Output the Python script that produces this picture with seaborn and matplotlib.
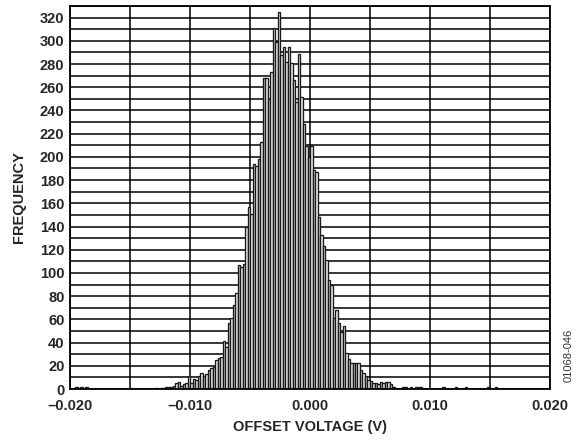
import matplotlib
matplotlib.use('Agg')
import matplotlib.pyplot as plt
import numpy as np
import pandas as pd
import seaborn as sns

# histogram: 192 equal bins between -0.020 V and 0.020 V
v_min, v_max, n_bins = -0.020, 0.020, 192

# counts of the main body, first value belongs to bin number body_first
body_first = 36
body_counts = [1, 1, 2, 2, 2, 3, 5, 6, 3, 4, 5, 11, 5, 9, 8, 11, 14, 11, 13, 16,
               18, 19, 25, 27, 28, 41, 36, 57, 61, 72, 83, 107, 105, 108, 140, 157,
               151, 194, 192, 198, 213, 268, 268, 250, 273, 311, 299, 325, 288, 295,
               282, 295, 281, 266, 247, 289, 252, 228, 209, 200, 209, 189, 187, 148,
               133, 123, 111, 94, 90, 61, 68, 57, 49, 54, 31, 26, 22, 22, 22, 22,
               16, 14, 11, 8, 7, 5, 5, 4, 6, 5, 6, 6, 4, 2, 1, 0, 0, 2, 2, 0,
               2, 0, 2, 2, 2]

# isolated outliers (bin number, count)
tail_bins = [2, 4, 6, 24, 34, 149, 154, 158, 167, 170]
tail_counts = [2, 2, 2, 1, 1, 2, 2, 2, 2, 2]

x_ticks = [-0.020, -0.010, 0.000, 0.010, 0.020]
x_tick_labels = ['\u20130.020', '\u20130.010', '0.000', '0.010', '0.020']
y_ticks = list(range(0, 321, 20))

counts = np.zeros(n_bins)
counts[body_first:body_first + len(body_counts)] = body_counts
counts[tail_bins] = tail_counts
edges = np.linspace(v_min, v_max, n_bins + 1)
df = pd.DataFrame({'v': (edges[:-1] + edges[1:]) / 2, 'n': counts})

sns.set_theme(style='white')
plt.rcParams['font.family'] = ['Liberation Sans', 'DejaVu Sans']

fig = plt.figure(figsize=(5.82, 4.40), dpi=100)
ax = fig.add_axes([0.1203, 0.1159, 0.8247, 0.8705])

# list, not array: seaborn compares bins with "auto"
sns.histplot(data=df, x='v', weights='n', bins=edges.tolist(), color='#e6e6e6',
             edgecolor='#1a1a1a', linewidth=0.95, alpha=1, ax=ax)

ax.set_xlim(v_min, v_max)
ax.set_ylim(0, 330)

# gridlines: every 0.005 V and every 10 counts
ax.set_xticks(np.arange(-0.020, 0.0201, 0.005), minor=True)
ax.set_yticks(np.arange(0, 331, 10), minor=True)
ax.grid(which='both', color='black', linewidth=1.1)
ax.set_axisbelow(True)

ax.set_xticks(x_ticks)
ax.set_xticklabels(x_tick_labels)
ax.set_yticks(y_ticks)
ax.tick_params(which='both', length=0)
ax.tick_params(axis='y', pad=4)
ax.tick_params(axis='x', pad=7)
for lab in ax.get_xticklabels() + ax.get_yticklabels():
    lab.set_fontsize(10.5)
    lab.set_fontweight('bold')

for sp in ax.spines.values():
    sp.set_color('black')
    sp.set_linewidth(1.3)

ax.set_xlabel('OFFSET VOLTAGE (V)', fontsize=10.5, fontweight='bold', labelpad=5)
ax.set_ylabel('FREQUENCY', fontsize=10.5, fontweight='bold', labelpad=10)

fig.text(0.977, 0.193, '01068-046', rotation=90, fontsize=8, ha='center', va='center',
         color='#333333')

fig.savefig('out.png', dpi=100)
